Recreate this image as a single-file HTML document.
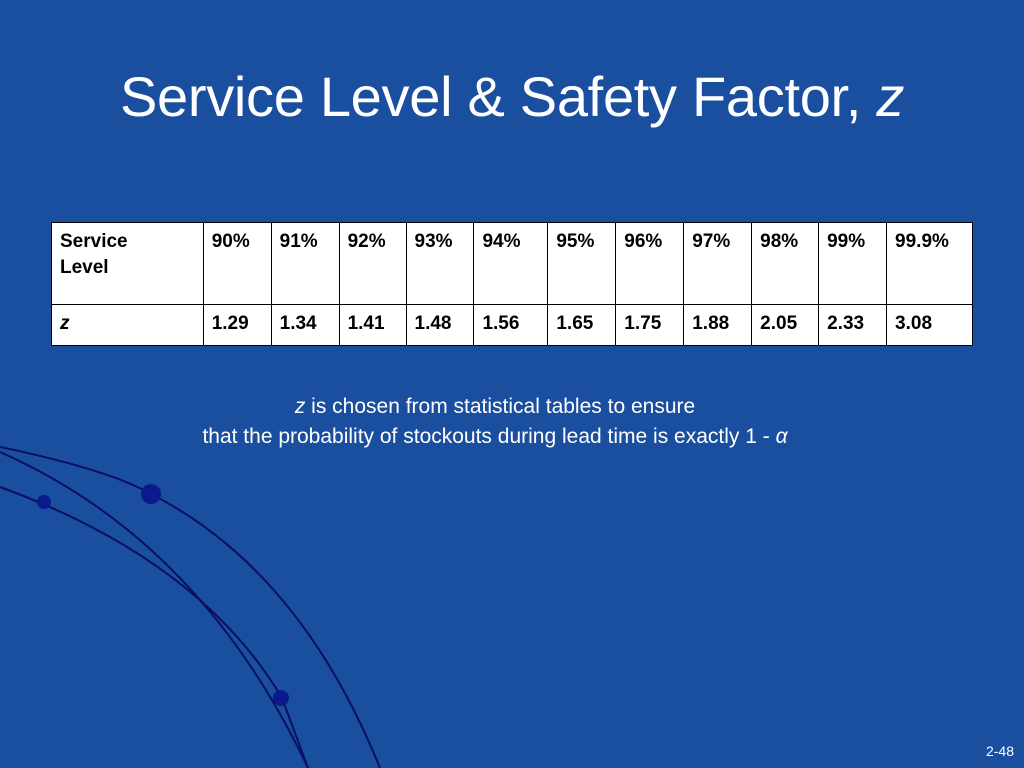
<!DOCTYPE html>
<html><head><meta charset="utf-8"><style>
body{margin:0;width:1024px;height:768px;background:#1a4fa0;position:relative;overflow:hidden;font-family:"Liberation Sans",sans-serif;color:#fff}
h1{position:absolute;left:0;width:1024px;top:62px;margin:0;text-align:center;font-weight:normal;font-size:56px;line-height:70px;letter-spacing:-0.3px}
table{position:absolute;left:51px;top:222px;width:922px;height:124px;border-collapse:collapse;background:#fff;color:#000;font-size:19px;font-weight:bold}
td{border:1.5px solid #000;vertical-align:top;padding:6px 8px;line-height:26px}
tr.r2 td{vertical-align:middle;padding-top:4px}
.cap{position:absolute;left:0;width:990px;top:392px;text-align:center;font-size:21px;line-height:30px}
.pg{position:absolute;right:10px;top:743px;font-size:14px}
svg{position:absolute;left:0;top:0}
</style></head><body>
<svg width="1024" height="768">
<path d="M0 447 Q110 470 151 494 Q300 570 380 768" fill="none" stroke="#0a1060" stroke-width="2"/>
<path d="M0 452 Q200 540 308 768" fill="none" stroke="#0a1060" stroke-width="2"/>
<path d="M0 487 Q200 560 282 698 L308 768" fill="none" stroke="#0a1060" stroke-width="2"/>
<circle cx="151" cy="494" r="10" fill="#0a1a8a"/>
<circle cx="44" cy="502" r="7" fill="#0a1a8a"/>
<circle cx="281" cy="698" r="8" fill="#0a1a8a"/>
</svg>
<h1>Service Level &amp; Safety Factor, <i>z</i></h1>
<table>
<colgroup><col style="width:152px"><col style="width:68px"><col style="width:68px"><col style="width:67px"><col style="width:68px"><col style="width:74px"><col style="width:68px"><col style="width:68px"><col style="width:68px"><col style="width:67px"><col style="width:68px"><col style="width:86px"></colgroup>
<tr style="height:82px"><td>Service<br>Level</td><td>90%</td><td>91%</td><td>92%</td><td>93%</td><td>94%</td><td>95%</td><td>96%</td><td>97%</td><td>98%</td><td>99%</td><td>99.9%</td></tr>
<tr class="r2"><td><i>z</i></td><td>1.29</td><td>1.34</td><td>1.41</td><td>1.48</td><td>1.56</td><td>1.65</td><td>1.75</td><td>1.88</td><td>2.05</td><td>2.33</td><td>3.08</td></tr>
</table>
<div class="cap"><i>z</i> is chosen from statistical tables to ensure<br>that the probability of stockouts during lead time is exactly 1 - <i>α</i></div>
<div class="pg">2-48</div>
</body></html>
